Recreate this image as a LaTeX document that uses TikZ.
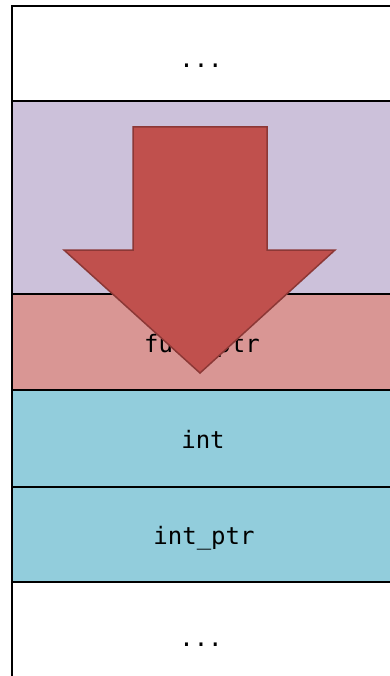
\documentclass[tikz,border=0pt]{standalone}
\usepackage{fontspec}
\setmonofont{DejaVu Sans Mono}
\definecolor{lav}{HTML}{CCC1DA}
\definecolor{pinkc}{HTML}{D99694}
\definecolor{aqua}{HTML}{92CDDC}
\definecolor{arrfill}{HTML}{C0504D}
\definecolor{arrline}{HTML}{8C3836}
\tikzset{
  cell/.style={draw=black, line width=1.5pt},
  lbl/.style={font=\ttfamily\fontsize{24}{27}\selectfont, inner sep=0pt, anchor=base},
  bigarrow/.style={fill=arrfill, draw=arrline, line width=1.5pt, line join=miter}
}
\begin{document}
\begin{tikzpicture}[x=1pt,y=-1pt]
\useasboundingbox (0,0) rectangle (390,676);
\clip (0,0) rectangle (390,676);
% cells
\draw[cell, fill=white] (12,6) rectangle (400,101);
\draw[cell, fill=lav] (12,101) rectangle (400,294);
\draw[cell, fill=pinkc] (12,294) rectangle (400,390);
\draw[cell, fill=aqua] (12,390) rectangle (400,487);
\draw[cell, fill=aqua] (12,487) rectangle (400,582);
\draw[cell, fill=white] (12,582) rectangle (400,700);
% labels
\node[lbl] (top) at (201,68) {...};
\node[lbl] (func) at (202,352) {func\_ptr};
\node[lbl] (int) at (203,448) {int};
\node[lbl] (intptr) at (204,544) {int\_ptr};
\node[lbl] (bot) at (201,646) {...};
% arrow
\draw[bigarrow] (133,127) -- (267,127) -- (267,250) -- (335,250) -- (200,373) -- (64,250) -- (133,250) -- cycle;
\end{tikzpicture}
\end{document}
